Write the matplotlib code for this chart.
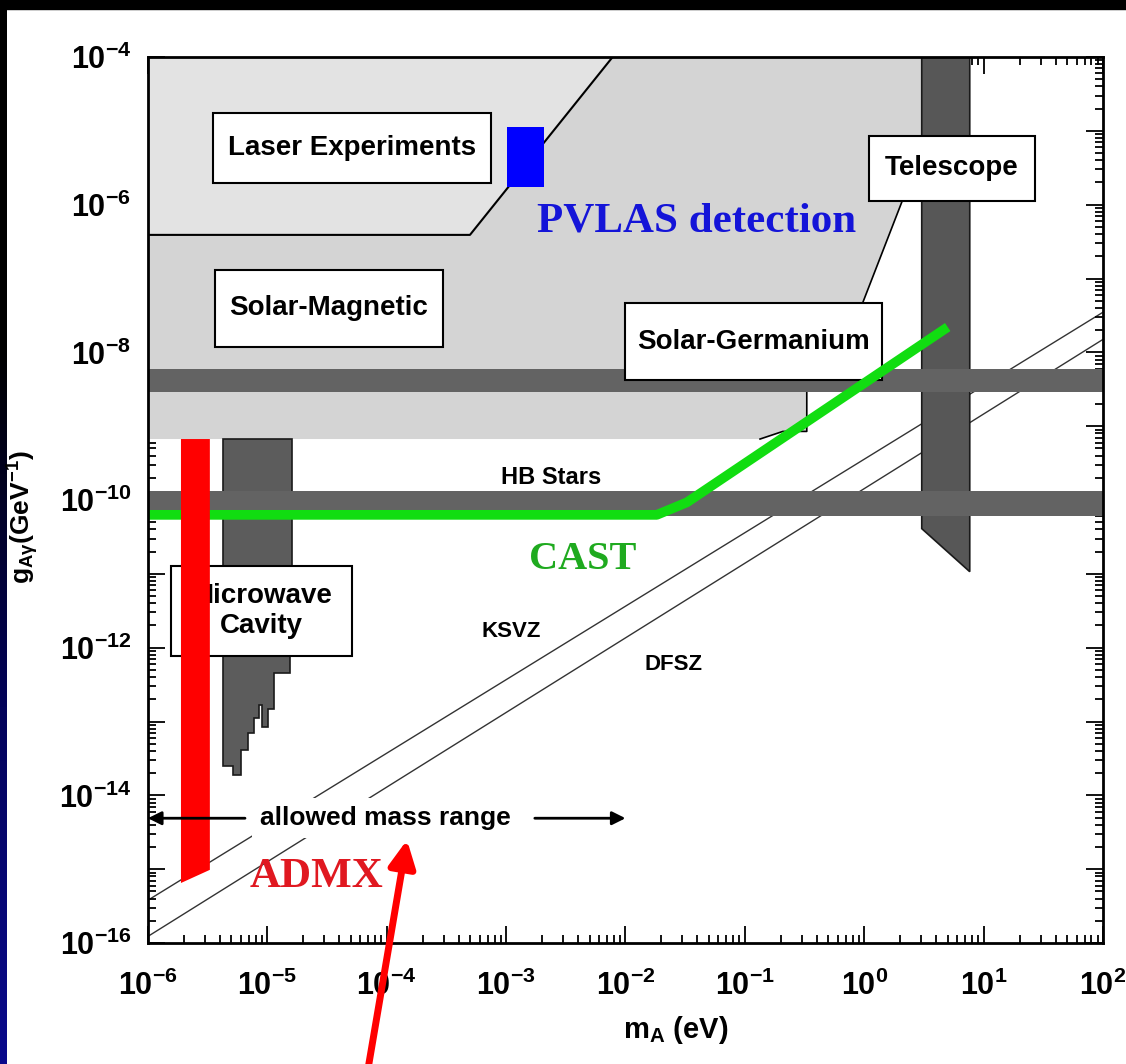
import numpy as np
import matplotlib
matplotlib.use('Agg')
import matplotlib.pyplot as plt
from matplotlib.patches import Rectangle
from matplotlib.colors import LinearSegmentedColormap
from matplotlib.ticker import FixedLocator, LogLocator, FuncFormatter, NullFormatter

plt.rcParams['font.family'] = ['Liberation Sans', 'DejaVu Sans']
plt.rcParams['mathtext.fontset'] = 'custom'
plt.rcParams['mathtext.rm'] = 'Liberation Sans'
plt.rcParams['mathtext.it'] = 'Liberation Sans:italic'
plt.rcParams['mathtext.bf'] = 'Liberation Sans:bold'

# excluded regions, m_A in eV and g in GeV^-1
laser_m = [1e-6, 7.8e-3, 4.98e-4, 1e-6]
laser_g = [1e-4, 1e-4, 3.9e-7, 3.9e-7]

solar_m = [1e-6, 3.03, 3.03, 2.1, 0.59, 0.33, 0.33, 0.208, 0.134, 1e-6]
solar_g = [1e-4, 1e-4, 4.9e-6, 1.17e-6, 5.9e-9, 5.9e-9, 8.5e-10, 8.5e-10, 6.7e-10, 6.7e-10]

tele_m = [3.03, 7.65, 7.65, 3.03]
tele_g = [1e-4, 1e-4, 1.07e-11, 4.1e-11]

germ_band = [2.9e-9, 5.9e-9]
hb_band = [6.0e-11, 1.32e-10]

cav_edges = [4.25e-6, 5.15e-6, 6.0e-6, 6.9e-6, 7.7e-6, 8.5e-6, 9.0e-6, 1.01e-5, 1.13e-5, 1.55e-5, 1.6e-5]
cav_bottom = [2.5e-14, 1.9e-14, 4.1e-14, 6.9e-14, 1.1e-13, 1.7e-13, 8.5e-14, 1.5e-13, 4.5e-13, 1e-12]
cav_top = 6.7e-10

admx_m = [1.89e-6, 3.3e-6, 3.3e-6, 1.89e-6]
admx_g = [6.7e-10, 6.7e-10, 9.8e-16, 6.5e-16]

pvlas_m = [1.02e-3, 2.07e-3]
pvlas_g = [1.75e-6, 1.13e-5]

cast_m = [1e-6, 1.83e-2, 3.27e-2, 5.0]
cast_g = [6.3e-11, 6.3e-11, 9.3e-11, 2.2e-8]

ksvz_m = [1e-6, 1e2]
ksvz_g = [3.8e-16, 3.5e-8]
dfsz_m = [1e-6, 1e2]
dfsz_g = [1.23e-16, 1.5e-8]

allowed_m = [1e-6, 1e-2]
allowed_g = 4.9e-15

# labelled boxes: m0, m1, g0, g1, text
boxes = [
    (3.5e-6, 7.46e-4, 1.98e-6, 1.75e-5, 'Laser Experiments'),
    (3.64e-6, 2.96e-4, 1.17e-8, 1.32e-7, 'Solar-Magnetic'),
    (9.9e-3, 1.40, 4.2e-9, 4.6e-8, 'Solar-Germanium'),
    (1.09, 26.9, 1.13e-6, 8.5e-6, 'Telescope'),
    (1.56e-6, 5.1e-5, 7.6e-13, 1.29e-11, 'Microwave\nCavity'),
]

fig = plt.figure(figsize=(11.26, 10.64), dpi=100, facecolor='white')

# slide background strips
fig.patches.append(Rectangle((0, 1 - 9 / 1064), 1, 9 / 1064, transform=fig.transFigure,
                             color='black', zorder=0))
bg = fig.add_axes([0, 0, 7 / 1126, 1])
grad = np.linspace(0, 1, 256).reshape(-1, 1)
cm = LinearSegmentedColormap.from_list('slide', ['black', 'black', '#03035a', '#0a0a8c'])
bg.imshow(grad, aspect='auto', cmap=cm, extent=[0, 1, 0, 1])
bg.axis('off')

ax = fig.add_axes([0.1314, 0.1137, 0.8482, 0.8327])
ax.set_xscale('log')
ax.set_yscale('log')
ax.set_xlim(1e-6, 1e2)
ax.set_ylim(1e-16, 1e-4)

# model lines
ax.plot(ksvz_m, ksvz_g, color='#333333', lw=1.0, zorder=1)
ax.plot(dfsz_m, dfsz_g, color='#333333', lw=1.0, zorder=1)

# excluded regions
ax.fill(solar_m, solar_g, color='#d4d4d4', lw=0, zorder=2)
ax.plot(solar_m[3:5], solar_g[3:5], color='black', lw=1.2, zorder=3)
ax.plot(solar_m[5:9], solar_g[5:9], color='black', lw=1.2, zorder=3)
ax.fill(laser_m, laser_g, color='#e3e3e3', lw=0, zorder=2.5)
ax.plot([laser_m[3], laser_m[2], laser_m[1]], [laser_g[3], laser_g[2], laser_g[1]],
        color='black', lw=1.5, zorder=3)

cx = [cav_edges[0]]
cy = [cav_top]
for i, b in enumerate(cav_bottom):
    cx += [cav_edges[i], cav_edges[i + 1]]
    cy += [b, b]
cx.append(cav_edges[-1])
cy.append(cav_top)
ax.fill(cx, cy, facecolor='#5c5c5c', edgecolor='#1a1a1a', lw=1.2, zorder=2)

ax.fill(tele_m, tele_g, facecolor='#575757', edgecolor='#1a1a1a', lw=1.2, zorder=3.5)
ax.axhspan(germ_band[0], germ_band[1], color='#636363', lw=0, zorder=4)
ax.axhspan(hb_band[0], hb_band[1], color='#636363', lw=0, zorder=4)

ax.fill([pvlas_m[0], pvlas_m[1], pvlas_m[1], pvlas_m[0]],
        [pvlas_g[0], pvlas_g[0], pvlas_g[1], pvlas_g[1]], color='#0000ff', lw=0, zorder=5)

for m0, m1, g0, g1, txt in boxes:
    ax.add_patch(Rectangle((m0, g0), m1 - m0, g1 - g0, facecolor='white',
                           edgecolor='black', lw=1.5, zorder=6))
    ax.text(np.sqrt(m0 * m1), np.sqrt(g0 * g1), txt, ha='center', va='center',
            fontsize=20, fontweight='bold', linespacing=1.2, zorder=6.5)

ax.plot(cast_m, cast_g, color='#11dd11', lw=7, solid_capstyle='butt', zorder=7)
ax.fill(admx_m, admx_g, color='#ff0000', lw=0, zorder=8)

# text labels
ax.text(2.37e-3, 2.04e-10, 'HB Stars', ha='center', va='center', fontsize=17, fontweight='bold', zorder=9)
ax.text(1.1e-3, 1.66e-12, 'KSVZ', ha='center', va='center', fontsize=16, fontweight='bold', zorder=9)
ax.text(2.5e-2, 5.9e-13, 'DFSZ', ha='center', va='center', fontsize=16, fontweight='bold', zorder=9)
ax.text(4.4e-3, 1.55e-11, 'CAST', ha='center', va='center', fontsize=29, fontweight='bold',
        family='Liberation Serif', color='#1faa1f', zorder=9)
ax.text(3.96e-2, 5.9e-7, 'PVLAS detection', ha='center', va='center', fontsize=31, fontweight='bold',
        family='Liberation Serif', color='#1414d8', zorder=9)
ax.text(2.6e-5, 7.8e-16, 'ADMX', ha='center', va='center', fontsize=31, fontweight='bold',
        family='Liberation Serif', color='#e01820', zorder=9)

ax.text(9.7e-5, allowed_g, 'allowed mass range', ha='center', va='center', fontsize=19,
        fontweight='bold', zorder=5,
        bbox=dict(boxstyle='square,pad=0.3', facecolor='white', edgecolor='none'))
ax.annotate('', xy=(allowed_m[0], allowed_g), xytext=(6.5e-6, allowed_g),
            arrowprops=dict(arrowstyle='-|>', color='black', lw=2, mutation_scale=20,
                            shrinkA=0, shrinkB=0), zorder=9)
ax.annotate('', xy=(allowed_m[1], allowed_g), xytext=(1.74e-3, allowed_g),
            arrowprops=dict(arrowstyle='-|>', color='black', lw=2, mutation_scale=20,
                            shrinkA=0, shrinkB=0), zorder=9)

# axes styling
ax.xaxis.set_major_locator(FixedLocator([10.0 ** k for k in range(-6, 3)]))
ax.yaxis.set_major_locator(FixedLocator([10.0 ** k for k in range(-16, -3)]))
ax.xaxis.set_minor_locator(LogLocator(base=10, subs=np.arange(2, 10), numticks=50))
ax.yaxis.set_minor_locator(LogLocator(base=10, subs=np.arange(2, 10), numticks=50))
ax.xaxis.set_minor_formatter(NullFormatter())
ax.yaxis.set_minor_formatter(NullFormatter())
ax.xaxis.set_major_formatter(FuncFormatter(lambda v, p: r'$\mathbf{10^{%d}}$' % round(np.log10(v))))
ax.yaxis.set_major_formatter(FuncFormatter(
    lambda v, p: r'$\mathbf{10^{%d}}$' % round(np.log10(v)) if round(np.log10(v)) % 2 == 0 else ''))
ax.tick_params(which='both', direction='in', top=True, right=True, width=1.3)
ax.tick_params(which='major', length=12, labelsize=22)
ax.tick_params(axis='x', which='major', pad=20)
ax.tick_params(axis='y', which='major', pad=12)
ax.tick_params(which='minor', length=6)
for s in ax.spines.values():
    s.set_linewidth(2)
    s.set_zorder(10)

fig.text(676 / 1126, 1 - 1030 / 1064, r'$\mathbf{m_A\ (eV)}$', ha='center', va='center', fontsize=21)
fig.text(23 / 1126, 1 - 517 / 1064, r'$\mathbf{g_{A\gamma}(GeV^{-1})}$', ha='center', va='center',
         fontsize=19, rotation=90)

# red pointer arrow
ax.annotate('', xy=(407, 1064 - 840), xycoords='figure pixels', xytext=(368, -5),
            textcoords='figure pixels', annotation_clip=False,
            arrowprops=dict(arrowstyle='-|>', color='#ff0000', lw=5, mutation_scale=40,
                            shrinkA=0, shrinkB=0), zorder=20)

fig.savefig('out.png', dpi=100, facecolor='white')
